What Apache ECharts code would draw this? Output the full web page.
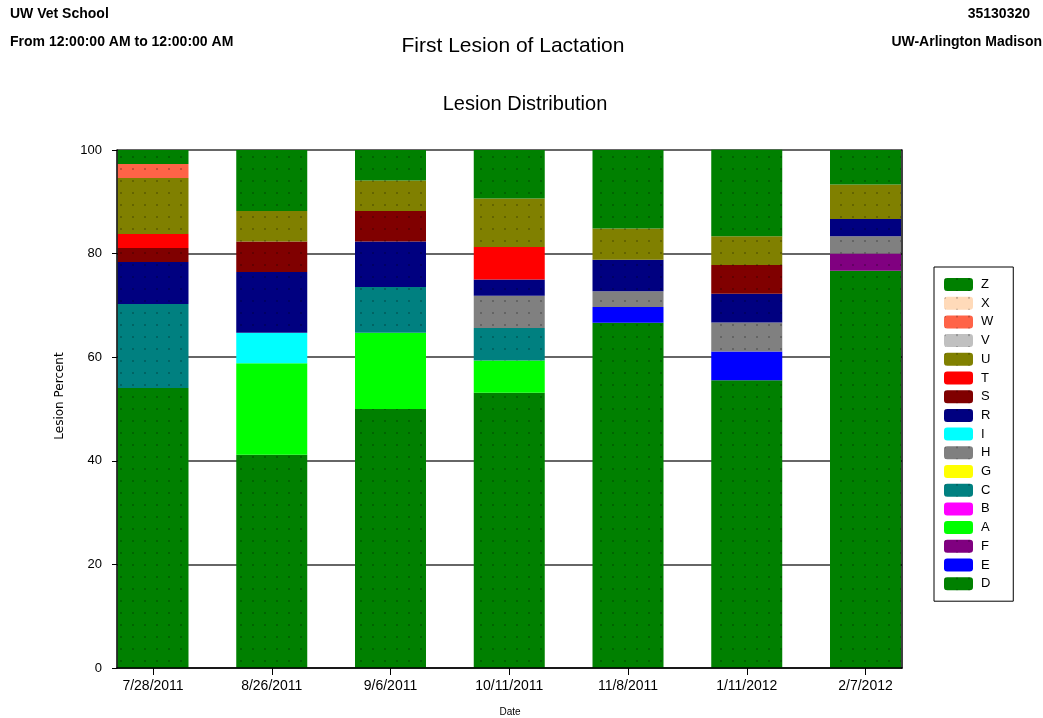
<!DOCTYPE html>
<html>
<head>
<meta charset="utf-8">
<title>First Lesion of Lactation</title>
<script src="https://cdn.jsdelivr.net/npm/echarts@6/dist/echarts.min.js"></script>
<style>
  html, body { margin: 0; padding: 0; background: #fff; }
  #chart { width: 1043px; height: 718px; }
</style>
</head>
<body>
<div id="chart"></div>
<script>
// categories (dates)
var dates = ['7/28/2011', '8/26/2011', '9/6/2011', '10/11/2011', '11/8/2011', '1/11/2012', '2/7/2012'];
// y ticks
var yTicks = [0, 20, 40, 60, 80, 100];

// lesion percents per date, bottom of stack first
var lesionD = [54.05, 41.18, 50.00, 53.13, 66.67, 55.56, 76.67];
var lesionE = [0, 0, 0, 0, 3.03, 5.56, 0];
var lesionF = [0, 0, 0, 0, 0, 0, 3.33];
var lesionA = [0, 17.65, 14.71, 6.25, 0, 0, 0];
var lesionB = [0, 0, 0, 0, 0, 0, 0];
var lesionC = [16.22, 0, 8.82, 6.25, 0, 0, 0];
var lesionG = [0, 0, 0, 0, 0, 0, 0];
var lesionH = [0, 0, 0, 6.25, 3.03, 5.56, 3.33];
var lesionI = [0, 5.88, 0, 0, 0, 0, 0];
var lesionR = [8.11, 11.76, 8.82, 3.13, 6.06, 5.56, 3.33];
var lesionS = [2.70, 5.88, 5.88, 0, 0, 5.56, 0];
var lesionT = [2.70, 0, 0, 6.25, 0, 0, 0];
var lesionU = [10.81, 5.88, 5.88, 9.38, 6.06, 5.56, 6.67];
var lesionV = [0, 0, 0, 0, 0, 0, 0];
var lesionW = [2.70, 0, 0, 0, 0, 0, 0];
var lesionX = [0, 0, 0, 0, 0, 0, 0];
var lesionZ = [2.70, 11.76, 5.88, 9.38, 15.15, 16.67, 6.67];

// stack order (bottom to top)
var lesionNames = ['D', 'E', 'F', 'A', 'B', 'C', 'G', 'H', 'I', 'R', 'S', 'T', 'U', 'V', 'W', 'X', 'Z'];
var lesionData = [lesionD, lesionE, lesionF, lesionA, lesionB, lesionC, lesionG, lesionH, lesionI,
                  lesionR, lesionS, lesionT, lesionU, lesionV, lesionW, lesionX, lesionZ];
var lesionColors = ['#008000', '#0000ff', '#800080', '#00ff00', '#ff00ff', '#008080', '#ffff00', '#808080', '#00ffff',
                    '#000080', '#800000', '#ff0000', '#808000', '#c0c0c0', '#ff6347', '#ffdab9', '#008000'];
// which fills have the dotted printer pattern
var dotted = { D: 1, F: 1, C: 1, H: 1, R: 1, S: 1, U: 1, V: 1, W: 1, X: 1, Z: 1 };

var FONT = 'Liberation Sans, Arial, sans-serif';

var chart = echarts.init(document.getElementById('chart'));

var seriesArr = [];
for (var k = 0; k < lesionNames.length; k++) {
    var nm = lesionNames[k];
    var style = { color: lesionColors[k] };
    if (dotted[nm]) {
        style.decal = {
            symbol: 'rect',
            symbolSize: 1,
            dashArrayX: [2, 10],
            dashArrayY: [2, 10],
            rotation: 0,
            color: 'rgba(0,0,0,0.22)'
        };
    }
    seriesArr.push({
        name: nm,
        type: 'bar',
        stack: 'lesion',
        xAxisIndex: 1,
        yAxisIndex: 2,
        barWidth: 71,
        clip: false,
        itemStyle: style,
        data: lesionData[k]
    });
}

var option = {
    backgroundColor: '#fff',
    animation: false,
    textStyle: { fontFamily: FONT },
    graphic: [
        { type: 'text', x: 10, y: 14, style: { text: 'UW Vet School', font: 'bold 14px ' + FONT, fill: '#000', textVerticalAlign: 'middle' } },
        { type: 'text', x: 10, y: 42, style: { text: 'From 12:00:00 AM to 12:00:00 AM', font: 'bold 14px ' + FONT, fill: '#000', textVerticalAlign: 'middle' } },
        { type: 'text', x: 1030, y: 14, style: { text: '35130320', font: 'bold 14px ' + FONT, fill: '#000', textAlign: 'right', textVerticalAlign: 'middle' } },
        { type: 'text', x: 1042, y: 42, style: { text: 'UW-Arlington Madison', font: 'bold 14px ' + FONT, fill: '#000', textAlign: 'right', textVerticalAlign: 'middle' } },
        { type: 'text', x: 513, y: 46, style: { text: 'First Lesion of Lactation', font: '21px ' + FONT, fill: '#000', textAlign: 'center', textVerticalAlign: 'middle' } },
        { type: 'text', x: 525, y: 104, style: { text: 'Lesion Distribution', font: '20px ' + FONT, fill: '#000', textAlign: 'center', textVerticalAlign: 'middle' } },
        { type: 'text', x: 60, y: 396, rotation: Math.PI / 2,
          style: { text: 'Lesion Percent', font: '12px DejaVu Sans, ' + FONT, fill: '#000', textAlign: 'center', textVerticalAlign: 'middle' } },
        { type: 'text', x: 510, y: 712, style: { text: 'Date', font: '10px ' + FONT, fill: '#000', textAlign: 'center', textVerticalAlign: 'middle' } }
    ],
    legend: {
        data: lesionNames.slice().reverse(),
        orient: 'vertical',
        left: 934,
        top: 267,
        padding: [11, 20, 11, 10],
        itemWidth: 29,
        itemHeight: 13,
        itemGap: 5.7,
        borderColor: '#000',
        borderWidth: 1,
        textStyle: { fontFamily: FONT, fontSize: 13, color: '#000', padding: [0, 0, 0, 3] }
    },
    // grid 0: plot frame, y labels and grid lines; grid 1: the bars
    grid: [
        { left: 117, right: 141, top: 150, bottom: 50, containLabel: false },
        { left: 153, right: 177.5, top: 150, bottom: 50, containLabel: false }
    ],
    xAxis: [
        {
            gridIndex: 0,
            type: 'value',
            min: 0,
            max: 1,
            z: 10,
            axisLine: { show: true, onZero: false, lineStyle: { color: '#000', width: 1.5 } },
            axisTick: { show: false },
            axisLabel: { show: false },
            splitLine: { show: false }
        },
        {
            gridIndex: 1,
            type: 'category',
            data: dates,
            boundaryGap: false,
            axisLine: { show: false },
            axisTick: { show: true, length: 7, lineStyle: { color: '#000' } },
            axisLabel: { color: '#000', fontSize: 14, margin: 11, fontFamily: FONT },
            splitLine: { show: false }
        }
    ],
    yAxis: [
        {
            gridIndex: 0,
            type: 'value',
            min: yTicks[0],
            max: yTicks[yTicks.length - 1],
            interval: 20,
            axisLine: { show: false },
            axisTick: { show: true, length: 5, lineStyle: { color: '#000' } },
            axisLabel: { color: '#000', fontSize: 13, margin: 15, fontFamily: FONT },
            splitLine: { show: true, lineStyle: { color: '#333', width: 1.5 } }
        },
        {
            gridIndex: 0,
            type: 'value',
            position: 'right',
            min: 0,
            max: 100,
            z: 10,
            axisLine: { show: true, lineStyle: { color: '#000', width: 1.5 } },
            axisTick: { show: false },
            axisLabel: { show: false },
            splitLine: { show: false }
        },
        {
            gridIndex: 1,
            type: 'value',
            min: 0,
            max: 100,
            show: false
        },
        {
            gridIndex: 0,
            type: 'value',
            position: 'left',
            min: 0,
            max: 100,
            z: 10,
            axisLine: { show: true, lineStyle: { color: '#000', width: 1.5 } },
            axisTick: { show: false },
            axisLabel: { show: false },
            splitLine: { show: false }
        }
    ],
    series: seriesArr
};

chart.setOption(option);
</script>
</body>
</html>
